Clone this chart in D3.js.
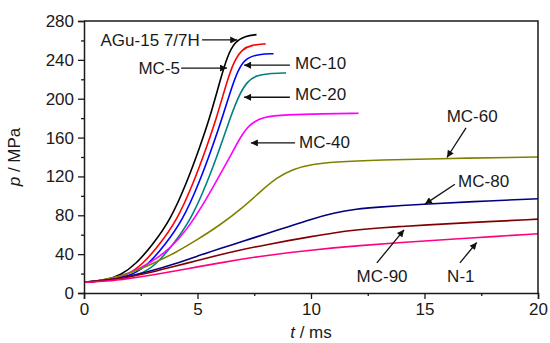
<!DOCTYPE html>
<html>
<head>
<meta charset="utf-8">
<script src="https://cdn.jsdelivr.net/npm/d3@7"></script>
<style>
  body { margin: 0; background: #fff; }
  text { font-family: "Liberation Sans", Arial, sans-serif; fill: #1a1a1a; }
</style>
</head>
<body>
<div id="chart"></div>
<script>
// Series: [t (ms), p (MPa)]
var agu15 = [[0,11],[1,13.5],[1.6,18],[2.3,30],[3,49],[3.8,75],[4.5,112],[5.1,150],[5.55,181],[6,219],[6.3,243],[6.65,259],[7.1,264.5],[7.6,266]];
var mc5   = [[0,11],[1,13],[1.9,18],[2.6,30],[3.3,49],[4.1,75],[4.8,112],[5.4,150],[5.85,181],[6.3,218],[6.6,238],[6.95,251],[7.4,255.5],[8,256.5]];
var mc10  = [[0,11],[1,13],[2.15,18],[2.85,30],[3.55,49],[4.35,75],[5.05,112],[5.65,150],[6.1,181],[6.55,215],[6.85,233],[7.2,242.5],[7.7,245.8],[8.35,246.3]];
var mc20  = [[0,11],[1,13],[2.5,18],[3.2,30],[3.9,49],[4.7,75],[5.4,112],[6,150],[6.45,181],[6.85,205],[7.2,218],[7.6,224],[8.1,226],[8.9,226.5]];
var mc40  = [[0,11],[1,13],[2,20],[3,32],[3.8,46],[4.5,64],[5.25,91],[5.85,116],[6.45,141],[6.9,161],[7.3,174],[7.9,181.5],[8.9,183.5],[10.5,184.5],[12.1,185]];
var mc60  = [[0,11],[1,14],[2,20],[3,30],[4,41],[5,55],[6,70],[7,88],[7.75,104],[8.5,119],[9.2,127.5],[10,132.5],[11,135],[13,137],[16,138.5],[20,140]];
var mc80  = [[0,11],[1,13],[2,17],[3,23],[4,30],[5,38],[6,46],[7,53],[8,61],[9,68],[10,76],[11,82.5],[12,86.5],[13,88.5],[14,90],[15,91.5],[17,94],[20,97]];
var mc90  = [[0,11],[1,13],[2,16.5],[3,21.5],[4,27.5],[5,33.5],[6,39.5],[7,45],[8,49.5],[9,54],[10,58],[11,62],[12,65],[13,67],[14,68.5],[15,70],[17,72.5],[20,76]];
var n1    = [[0,11],[1,12],[2,15],[3,18.5],[4,22.5],[5,27],[6,31],[7,35],[8,38.5],[9,41.5],[10,44],[11,46.5],[12,48.5],[14,52],[16,55],[18,58],[20,61]];

var seriesNames  = ["AGu-15 7/7H", "MC-5", "MC-10", "MC-20", "MC-40", "MC-60", "MC-80", "MC-90", "N-1"];
var seriesData   = [agu15, mc5, mc10, mc20, mc40, mc60, mc80, mc90, n1];
var seriesColors = ["#000000", "#ff0000", "#0000ff", "#008080", "#ff00ff", "#808000", "#000080", "#800000", "#ff0080"];

var xTicks = [0, 5, 10, 15, 20];
var yTicks = [0, 40, 80, 120, 160, 200, 240, 280];

// Annotations in data units: label, text anchor point, arrow from -> to
var notes = [
  { label: "AGu-15 7/7H", anchor: "end",    tx: 5.1,   tp: 254,  from: [5.2, 260.5],  to: [6.75, 260.5] },
  { label: "MC-5",        anchor: "end",    tx: 4.23,  tp: 225.5,from: [4.28, 231.5], to: [6.3, 231.5] },
  { label: "MC-10",       anchor: "start",  tx: 9.3,   tp: 231,  from: [9.07, 234.5], to: [7.05, 234.5] },
  { label: "MC-20",       anchor: "start",  tx: 9.3,   tp: 198.5,from: [9.07, 201.5], to: [7.05, 201.5] },
  { label: "MC-40",       anchor: "start",  tx: 9.47,  tp: 149.5,from: [9.3, 154.5],  to: [7.35, 154.5] },
  { label: "MC-60",       anchor: "middle", tx: 17.1,  tp: 176,  from: [16.83, 170],  to: [15.99, 139.5] },
  { label: "MC-80",       anchor: "start",  tx: 16.48, tp: 109,  from: [16.34, 112],  to: [15.02, 91.5] },
  { label: "MC-90",       anchor: "middle", tx: 13.13, tp: 11.3, from: [12.9, 31],    to: [14.1, 65] },
  { label: "N-1",         anchor: "middle", tx: 16.6,  tp: 11.3, from: [16.56, 31],   to: [17.3, 52] }
];

var width = 550, height = 343;
var margin = { top: 21, right: 12, bottom: 50, left: 84 };
var innerW = width - margin.left - margin.right;
var innerH = height - margin.top - margin.bottom;

var x = d3.scaleLinear().domain([0, 20]).range([0, innerW]);
var y = d3.scaleLinear().domain([0, 280]).range([innerH, 0]);

var svg = d3.select("#chart").append("svg")
    .attr("width", width)
    .attr("height", height);

svg.append("defs").append("marker")
    .attr("id", "head")
    .attr("viewBox", "0 0 10 10")
    .attr("refX", 10).attr("refY", 5)
    .attr("markerWidth", 10).attr("markerHeight", 7)
    .attr("markerUnits", "userSpaceOnUse")
    .attr("orient", "auto")
  .append("path")
    .attr("d", "M0,0 L10,5 L0,10 z")
    .attr("fill", "#111");

var g = svg.append("g")
    .attr("transform", "translate(" + margin.left + "," + margin.top + ")");

// curves (smoothed through the read points)
var line = d3.line()
    .x(d => x(d[0]))
    .y(d => y(d[1]))
    .curve(d3.curveBasis);

g.selectAll(".series")
    .data(seriesData)
    .enter().append("path")
    .attr("class", "series")
    .attr("fill", "none")
    .attr("stroke", (d, i) => seriesColors[i])
    .attr("stroke-width", 1.6)
    .attr("d", line);

// frame (top and right)
g.append("path")
    .attr("d", "M0,0 H" + innerW + " V" + innerH)
    .attr("fill", "none")
    .attr("stroke", "#1a1a1a")
    .attr("stroke-width", 1.5);

// minor ticks
var xMinor = g.append("g").attr("transform", "translate(0," + innerH + ")")
    .call(d3.axisBottom(x).tickValues([2.5, 7.5, 12.5, 17.5]).tickSize(3).tickFormat(""));
var yMinor = g.append("g")
    .call(d3.axisLeft(y).tickValues(d3.range(20, 280, 40)).tickSize(3).tickFormat(""));

// major axes
var xAxis = g.append("g").attr("transform", "translate(0," + innerH + ")")
    .call(d3.axisBottom(x).tickValues(xTicks).tickSize(6).tickPadding(4).tickFormat(d3.format("d")));
var yAxis = g.append("g")
    .call(d3.axisLeft(y).tickValues(yTicks).tickSize(6).tickPadding(4).tickFormat(d3.format("d")));

[xMinor, yMinor, xAxis, yAxis].forEach(a => {
    a.select(".domain").attr("stroke", "#1a1a1a").attr("stroke-width", 1.5);
    a.selectAll(".tick line").attr("stroke", "#1a1a1a").attr("stroke-width", 1.3);
});
xMinor.select(".domain").remove();
yMinor.select(".domain").remove();

xAxis.selectAll(".tick text").style("font-size", "17px").style("fill", "#1a1a1a");
yAxis.selectAll(".tick text").style("font-size", "17px").style("fill", "#1a1a1a");

// axis titles
var xt = svg.append("text")
    .attr("x", margin.left + innerW / 2)
    .attr("y", 338)
    .attr("text-anchor", "middle")
    .style("font-size", "17px");
xt.append("tspan").style("font-style", "italic").text("t");
xt.append("tspan").text(" / ms");

var yt = svg.append("text")
    .attr("transform", "translate(20," + (margin.top + innerH / 2) + ") rotate(-90)")
    .attr("text-anchor", "middle")
    .style("font-size", "17px");
yt.append("tspan").style("font-style", "italic").text("p");
yt.append("tspan").text(" / MPa");

// annotations
var ann = g.selectAll(".note").data(notes).enter().append("g").attr("class", "note");

ann.append("line")
    .attr("x1", d => x(d.from[0])).attr("y1", d => y(d.from[1]))
    .attr("x2", d => x(d.to[0])).attr("y2", d => y(d.to[1]))
    .attr("stroke", "#111")
    .attr("stroke-width", 1.3)
    .attr("marker-end", "url(#head)");

ann.append("text")
    .attr("x", d => x(d.tx))
    .attr("y", d => y(d.tp))
    .attr("text-anchor", d => d.anchor)
    .style("font-size", "17px")
    .text(d => d.label);
</script>
</body>
</html>
